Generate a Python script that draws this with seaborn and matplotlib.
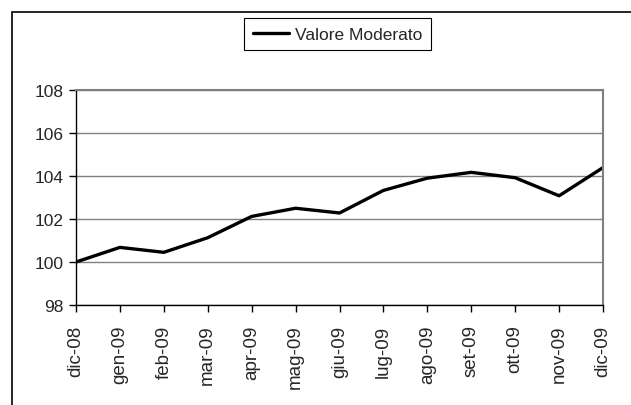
import matplotlib
matplotlib.use('Agg')
import matplotlib.pyplot as plt
import seaborn as sns
import pandas as pd
from matplotlib.patches import Rectangle

months = ['dic-08', 'gen-09', 'feb-09', 'mar-09', 'apr-09', 'mag-09', 'giu-09',
          'lug-09', 'ago-09', 'set-09', 'ott-09', 'nov-09', 'dic-09']
valore = [100.0, 100.68, 100.45, 101.13, 102.12, 102.5, 102.28,
          103.33, 103.9, 104.17, 103.92, 103.08, 104.39]
yticks = [98, 100, 102, 104, 106, 108]

sns.set_style('white')
plt.rcParams['font.family'] = ['Liberation Sans', 'DejaVu Sans']

df = pd.DataFrame({'mese': months, 'valore': valore})
df['pos'] = range(len(months))

fig = plt.figure(figsize=(6.31, 4.06), dpi=100)
ax = fig.add_axes([76 / 631, 1 - 306 / 406, 527 / 631, 215 / 406])

sns.lineplot(data=df, x='pos', y='valore', color='black', linewidth=2.4,
             label='Valore Moderato', ax=ax, sort=False)

ax.set_xlim(0, len(months) - 1)
ax.set_ylim(98, 108)
ax.set_yticks(yticks)
ax.set_xticks(df['pos'])
ax.set_xticklabels(months, rotation=90)
ax.set_xlabel('')
ax.set_ylabel('')
ax.grid(axis='y', color='#808080', linewidth=1)
ax.tick_params(axis='both', length=5, width=1, color='black',
               direction='out', bottom=True, left=True)
ax.tick_params(axis='x', pad=9, labelsize=13.5)
ax.tick_params(axis='y', pad=4, labelsize=12.5)
for side in ['left', 'bottom']:
    ax.spines[side].set_color('black')
    ax.spines[side].set_linewidth(1)
for side in ['top', 'right']:
    ax.spines[side].set_color('#808080')
    ax.spines[side].set_linewidth(1.5)

leg = ax.legend(loc='center', bbox_to_anchor=(337.5 / 631, 1 - 35 / 406),
                bbox_transform=fig.transFigure, fontsize=12.5, frameon=True,
                fancybox=False, edgecolor='black', framealpha=1,
                handlelength=2.1, handletextpad=0.3, borderpad=0.5)
leg.get_frame().set_linewidth(0.8)

fig.patches.append(Rectangle((12 / 631, -0.1), 1.1, 1.1 - 13 / 406,
                             transform=fig.transFigure, fill=False,
                             edgecolor='black', linewidth=1.2))

plt.savefig('out.png', dpi=100)
